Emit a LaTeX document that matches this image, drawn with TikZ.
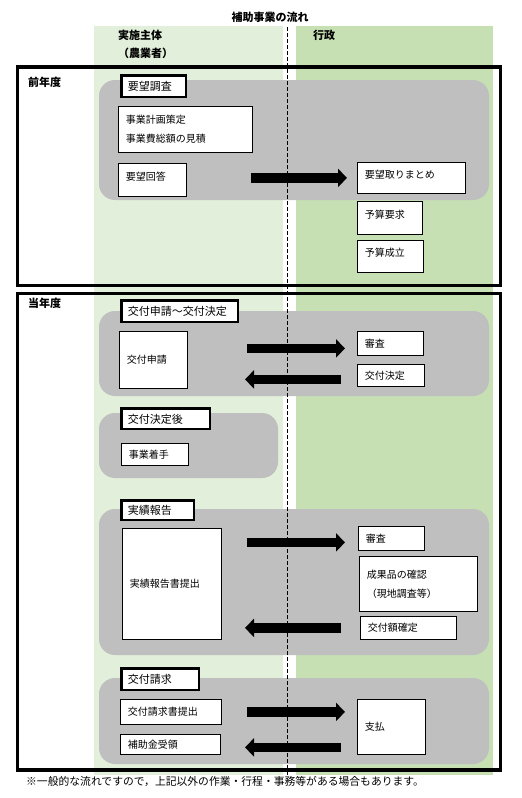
\documentclass[tikz,border=0pt]{standalone}
\usepackage{fontspec}
\setmainfont{Noto Sans CJK JP}
\usepackage{tikz}
\usetikzlibrary{arrows.meta, positioning, calc}
\definecolor{farmside}{HTML}{E2EFDA}
\definecolor{adminside}{HTML}{C6E0B4}
\definecolor{band}{HTML}{BFBFBF}
\tikzset{
  cell/.style     = {draw=black, line width=0.8pt, fill=white, rectangle, anchor=north west,
                     align=left, inner xsep=7.5pt, inner ysep=0pt, font=\fontsize{10}{19}\selectfont},
  cellhigh/.style = {cell, text depth=8pt},
  stage/.style    = {cell, line width=2.8pt, inner xsep=6pt, font=\fontsize{11}{13}\selectfont},
  heading/.style  = {anchor=west, inner sep=0pt, font=\fontsize{11}{13}\selectfont\bfseries},
  period/.style   = {draw=black, line width=3.3pt},
  bandbox/.style  = {fill=band, rounded corners=16pt},
  divider/.style  = {draw=black, line width=1pt, dash pattern=on 4pt off 2pt},
  fat/.style      = {-{Triangle[length=9pt,width=18pt]}, line width=9.5pt},
}

\begin{document}
\begin{tikzpicture}[x=1pt, y=-1pt]
  \useasboundingbox (0,0) rectangle (522,798);

  % lanes
  \fill[farmside] (94,26) rectangle (283,775);
  \fill[adminside] (296,26) rectangle (493,775);

  \node[heading, anchor=center] (title) at (270,17) {補助事業の流れ};
  \node[heading] (farmer) at (118,35) {実施主体};
  \node[heading] (farmer2) at (118,53) {（農業者）};
  \node[heading] (admin) at (313,35) {行政};

  % grey bands
  \fill[bandbox] (99,80) rectangle (489,200);
  \fill[bandbox] (99,311) rectangle (489,396);
  \fill[bandbox] (99,413) rectangle (278,478);
  \fill[bandbox] (99,509) rectangle (489,655);
  \fill[bandbox] (99,678) rectangle (489,764);

  \draw[divider] (287,27) -- (287,776);

  % previous year
  \node[heading] (prevyear) at (28,82) {前年度};
  \node[stage, text width=52.2pt, minimum height=21.2pt] (survey) at (120.4,74.4) {要望調査};
  \node[cell, text width=119pt, minimum height=46pt] (plan) at (118,106) {事業計画策定\\事業費総額の見積};
  \node[cellhigh, text width=53pt, minimum height=33pt] (reply) at (118,163) {要望回答};
  \node[cellhigh, text width=93pt, minimum height=31pt] (collect) at (357,162) {要望取りまとめ};
  \node[cellhigh, text width=50pt, minimum height=33pt] (budreq) at (357,201) {予算要求};
  \node[cellhigh, text width=51pt, minimum height=32pt] (budok) at (357,240) {予算成立};

  % this year
  \node[heading] (curyear) at (28,303) {当年度};
  \node[stage, text width=104.2pt, minimum height=21.2pt] (grantapp) at (120.4,299.4) {交付申請～交付決定};
  \node[cell, text width=53pt, minimum height=57pt] (apply) at (119,331) {交付申請};
  \node[cell, text width=51pt, minimum height=24pt] (check1) at (357,331) {審査};
  \node[cell, text width=52pt, minimum height=22pt] (decide) at (357,364) {交付決定};

  \node[stage, text width=76.2pt, minimum height=20.2pt] (afterdec) at (120.4,407.4) {交付決定後};
  \node[cell, text width=52pt, minimum height=22pt] (start) at (121,443) {事業着手};

  \node[stage, text width=60.2pt, minimum height=19.2pt] (results) at (120.4,499.4) {実績報告};
  \node[cell, text width=84pt, minimum height=111pt] (report) at (122,528) {実績報告書提出};
  \node[cell, text width=51pt, minimum height=24pt] (check2) at (358,526) {審査};
  \node[cell, text width=103pt, minimum height=55pt] (verify) at (359,556) {成果品の確認\\（現地調査等）};
  \node[cell, text width=81pt, minimum height=23pt] (fix) at (360,616) {交付額確定};

  \node[stage, text width=65.2pt, minimum height=21.2pt] (request) at (120.4,667.4) {交付請求};
  \node[cell, text width=86pt, minimum height=25pt] (claim) at (120,699) {交付請求書提出};
  \node[cell, text width=85pt, minimum height=20pt] (receive) at (120,734) {補助金受領};
  \node[cell, text width=53pt, minimum height=55pt] (pay) at (357,699) {支払};

  % flows
  \coordinate (fromL) at (247,0);
  \coordinate (toR) at (345,0);
  \coordinate (fromR) at (341,0);
  \coordinate (toL) at (245,0);
  \draw[fat] ($(fromL |- collect.west)+(4,0)$) -- ($(toR |- collect.west)+(2,0)$);
  \draw[fat] ($(fromL |- check1.west)+(0,5)$) -- ($(toR |- check1.west)+(0,5)$);
  \draw[fat] ($(fromR |- decide.west)+(0,4)$) -- ($(toL |- decide.west)+(0,4)$);
  \draw[fat] ($(fromL |- check2.west)+(0,4)$) -- ($(toR |- check2.west)+(0,4)$);
  \draw[fat] (fromR |- fix.west) -- (toL |- fix.west);
  \draw[fat] (fromL |- claim.east) -- (toR |- claim.east);
  \draw[fat] ($(fromR |- receive.east)+(0,3)$) -- ($(toL |- receive.east)+(0,3)$);

  % year frames
  \draw[period] (17.7,67) rectangle (500.5,285.7);
  \draw[period] (17.7,293.3) rectangle (500.5,770);

  \node[anchor=west, inner sep=0pt, font=\fontsize{10.8}{13}\selectfont] (footnote) at (26,781)
    {※一般的な流れですので，上記以外の作業・行程・事務等がある場合もあります。};
\end{tikzpicture}
\end{document}
